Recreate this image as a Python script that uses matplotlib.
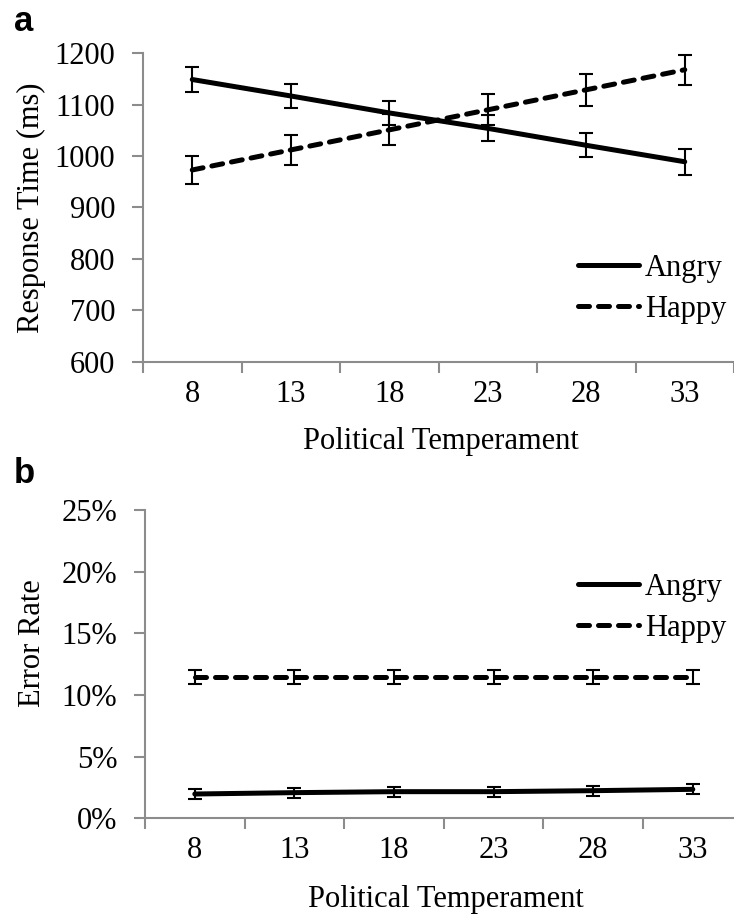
import matplotlib
matplotlib.use('Agg')
import matplotlib.pyplot as plt
from matplotlib.ticker import FixedLocator, FuncFormatter

plt.rcParams['font.family'] = ['Liberation Serif', 'DejaVu Serif']

temperament = [8, 13, 18, 23, 28, 33]

# panel a: response time (ms)
rt_angry = [1149, 1117, 1084, 1054, 1021, 989]
rt_angry_err = [24, 24, 24, 25, 23, 25]
rt_happy = [973, 1012, 1051, 1090, 1129, 1168]
rt_happy_err = [28, 30, 30, 30, 31, 29]

# panel b: error rate (%)
er_angry = [1.97, 2.08, 2.16, 2.16, 2.24, 2.35]
er_angry_err = [0.4, 0.4, 0.4, 0.4, 0.4, 0.4]
er_happy = [11.45, 11.45, 11.45, 11.45, 11.45, 11.45]
er_happy_err = [0.6, 0.6, 0.6, 0.6, 0.6, 0.6]

W, H = 734, 917
FS = 22
GRAY = '#8c8c8c'

fig = plt.figure(figsize=(W / 100, H / 100), dpi=100)


def style_axis(ax, ylim, yticks, fmt):
    pos = list(range(len(temperament)))
    ax.set_xlim(-0.5, len(temperament) - 0.5)
    ax.set_ylim(*ylim)
    for s in ['top', 'right']:
        ax.spines[s].set_visible(False)
    for s in ['left', 'bottom']:
        ax.spines[s].set_color(GRAY)
        ax.spines[s].set_linewidth(1.5)
    # ticks between categories, labels at category centres
    ax.xaxis.set_major_locator(FixedLocator([p - 0.5 for p in pos] + [pos[-1] + 0.5]))
    ax.xaxis.set_major_formatter(FuncFormatter(lambda v, i: ''))
    ax.xaxis.set_minor_locator(FixedLocator(pos))
    ax.xaxis.set_minor_formatter(FuncFormatter(lambda v, i: str(temperament[int(round(v))])))
    ax.tick_params(axis='x', which='major', direction='out', length=8, width=1.5, color=GRAY)
    ax.tick_params(axis='x', which='minor', length=0, pad=13, labelsize=FS)
    ax.set_yticks(yticks)
    ax.yaxis.set_major_formatter(FuncFormatter(fmt))
    ax.tick_params(axis='y', direction='out', length=8, width=1.5, color=GRAY, pad=12, labelsize=FS)


def draw(ax, angry, angry_err, happy, happy_err):
    pos = list(range(len(temperament)))
    ax.errorbar(pos, angry, yerr=angry_err, color='black', lw=3.6, elinewidth=1.5,
                capsize=5, capthick=1.5, solid_capstyle='round', label='Angry', zorder=3)
    ax.errorbar(pos, happy, yerr=happy_err, color='black', lw=3.6, elinewidth=1.5,
                capsize=5, capthick=1.5, linestyle=(0, (2.2, 1.8)),
                dash_capstyle='round', label='Happy', zorder=3)


# ---- panel a
ax1 = fig.add_axes([143 / W, 1 - 361.7 / H, 591 / W, 308.4 / H])
draw(ax1, rt_angry, rt_angry_err, rt_happy, rt_happy_err)
style_axis(ax1, (600, 1200), range(600, 1201, 100), lambda v, i: f'{v:.0f}')

# ---- panel b
ax2 = fig.add_axes([145 / W, 1 - 818.3 / H, 597.6 / W, 308.3 / H])
draw(ax2, er_angry, er_angry_err, er_happy, er_happy_err)
style_axis(ax2, (0, 25), range(0, 26, 5), lambda v, i: f'{v:.0f}%')

for ax, ly in [(ax1, 289), (ax2, 608)]:
    h, l = ax.get_legend_handles_labels()
    h = [x[0] for x in h]
    ax.legend(h, l, loc='center left', bbox_to_anchor=(578 / W, 1 - ly / H),
              bbox_transform=fig.transFigure, frameon=False, fontsize=FS,
              handlelength=2.0, handletextpad=0.2, labelspacing=0.4,
              borderpad=0, borderaxespad=0)

# axis titles
fig.text(31 / W, 1 - 207.5 / H, 'Response Time (ms)', rotation=90, ha='center', va='center', fontsize=FS)
fig.text(32 / W, 1 - 643 / H, 'Error Rate', rotation=90, ha='center', va='center', fontsize=FS)
fig.text(441 / W, 1 - 441 / H, 'Political Temperament', ha='center', va='center', fontsize=FS)
fig.text(446 / W, 1 - 899 / H, 'Political Temperament', ha='center', va='center', fontsize=FS)

# panel letters
fig.text(14 / W, 1 - 31 / H, 'a', family='Liberation Sans', weight='bold', fontsize=25, va='baseline')
fig.text(14 / W, 1 - 483 / H, 'b', family='Liberation Sans', weight='bold', fontsize=25, va='baseline')

fig.savefig('out.png', dpi=100)
